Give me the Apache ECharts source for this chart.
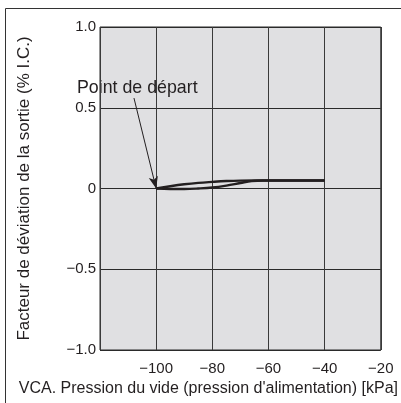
<!DOCTYPE html>
<html><head><meta charset="utf-8">
<script src="https://cdn.jsdelivr.net/npm/echarts@6/dist/echarts.min.js"></script>
<style>html,body{margin:0;padding:0;background:#fff;overflow:hidden}#c{width:401px;height:403px}</style>
</head><body><div id="c"></div>
<script>
var xTicks = [-120, -100, -80, -60, -40, -20];
var yTicks = [-1.0, -0.5, 0, 0.5, 1.0];
var upperBranch = [[-100,0],[-95,0.014],[-90,0.026],[-85,0.035],[-80,0.041],[-75,0.046],[-70,0.049],[-65,0.05],[-40,0.05]];
var lowerBranch = [[-100,0],[-95,-0.003],[-90,-0.003],[-85,0.0],[-80,0.006],[-75,0.018],[-70,0.034],[-66,0.046],[-62,0.05],[-40,0.05]];
var arrowFrom = [-107.9, 0.56];
var arrowTo = [-100, 0];
var annotation = 'Point de départ';
var xTitle = "VCA. Pression du vide (pression d'alimentation) [kPa]";
var yTitle = 'Facteur de déviation de la sortie (% I.C.)';

function fmtY(v){
  if (v === 0) return '0';
  var s = Math.abs(v).toFixed(1);
  return (v < 0 ? '\u2212' : '') + s;
}
function fmtX(v){
  if (v === xTicks[0]) return '';
  return (v < 0 ? '\u2212' : '') + Math.abs(v);
}
var font = '"Liberation Sans", Arial, sans-serif';
var chart = echarts.init(document.getElementById('c'));
var lineStyle = {color:'#231f20', width:2.4};
chart.setOption({
  animation:false,
  grid:{left:100, width:289, top:27, height:323, show:true, backgroundColor:'#e0e0e2', borderColor:'#2a2a2a', borderWidth:1},
  graphic:[
    {type:'polyline', shape:{points:[[5.5,410],[5.5,8.5],[410,8.5]]}, style:{stroke:'#333', lineWidth:1, fill:null}, silent:true},
    {type:'text', left:77, top:79, style:{text:annotation, font:'17.8px '+font, fill:'#231f20'}}
  ],
  xAxis:{type:'value', min:xTicks[0], max:xTicks[xTicks.length-1], interval:20,
    axisLine:{show:false}, axisTick:{show:false},
    splitLine:{show:true, lineStyle:{color:'#3a3a3a', width:1}},
    axisLabel:{formatter:fmtX, color:'#231f20', fontSize:15, fontFamily:font, margin:11},
    name:xTitle, nameLocation:'middle', nameGap:31,
    nameTextStyle:{color:'#231f20', fontSize:16, fontFamily:font, padding:[0,0,0,-64]}},
  yAxis:{type:'value', min:yTicks[0], max:yTicks[yTicks.length-1], interval:0.5,
    axisLine:{show:false}, axisTick:{show:false},
    splitLine:{show:true, lineStyle:{color:'#2a2a2a', width:1}},
    axisLabel:{formatter:fmtY, color:'#231f20', fontSize:15, fontFamily:font, margin:4},
    name:yTitle, nameLocation:'middle', nameGap:67, nameRotate:90,
    nameTextStyle:{color:'#231f20', fontSize:17, fontFamily:font, padding:[0,0,0,0]}},
  series:[
    {type:'line', data:upperBranch, smooth:0.4, symbol:'none', lineStyle:lineStyle, z:5,
     markLine:{silent:true, symbol:['none','arrow'], symbolSize:[7,12],
       lineStyle:{color:'#231f20', width:1, type:'solid'}, label:{show:false},
       data:[[{coord:arrowFrom},{coord:arrowTo}]]}},
    {type:'line', data:lowerBranch, smooth:0.4, symbol:'none', lineStyle:lineStyle, z:5}
  ]
});
</script></body></html>
